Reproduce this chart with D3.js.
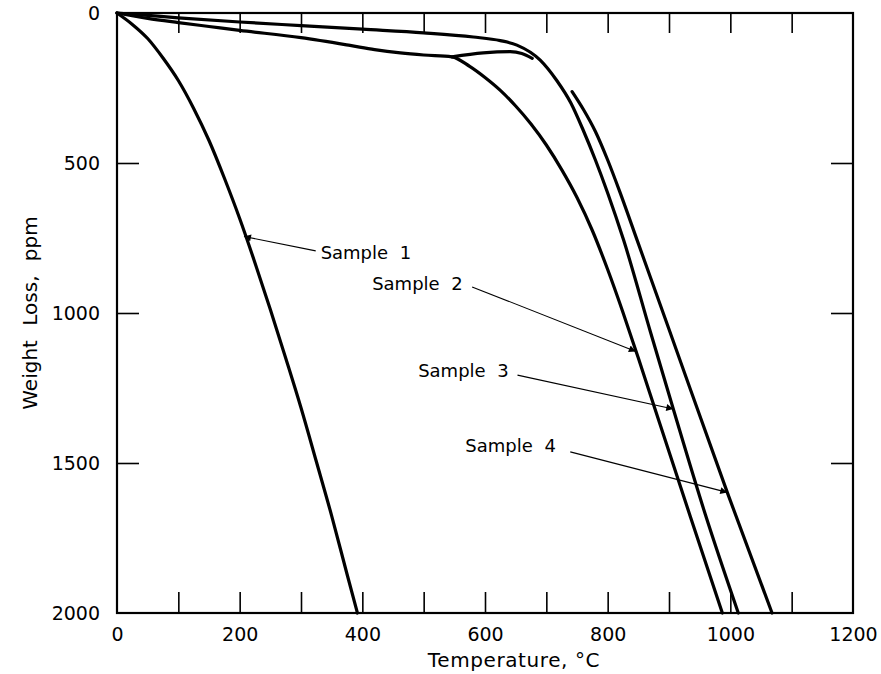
<!DOCTYPE html>
<html>
<head>
<meta charset="utf-8">
<script src="https://cdn.jsdelivr.net/npm/d3@7"></script>
<style>
  body { margin: 0; background: #fff; }
  text { font-family: "DejaVu Sans", sans-serif; fill: #000; }
</style>
</head>
<body>
<svg id="chart"></svg>
<script>
// [temperature °C, weight loss ppm]
const sample1 = [[0, 0], [25, 38], [50, 85], [75, 150], [100, 225], [125, 318], [150, 425],
  [175, 550], [200, 685], [225, 833], [250, 988], [275, 1150], [300, 1316], [325, 1495],
  [350, 1676], [375, 1870], [392, 2000]];
const sample2 = [[0, 0], [50, 18], [100, 32], [150, 45], [200, 58], [300, 82], [380, 108],
  [420, 122], [462, 133], [500, 140], [546, 146], [575, 178], [600, 215], [625, 258],
  [650, 310], [675, 370], [700, 440], [725, 522], [750, 615], [775, 725], [800, 855],
  [825, 998], [850, 1150], [878, 1325], [935, 1680], [987, 2000]];
const sample3 = [[0, 0], [50, 8], [100, 16], [200, 30], [300, 42], [400, 54], [500, 66],
  [581, 80], [625, 92], [652, 107], [690, 157], [717, 225], [740, 300], [760, 390],
  [780, 490], [800, 600], [826, 757], [870, 1065], [907, 1320], [959, 1670], [1013, 2000]];
// sample 4 trace has a break between the plateau and the fall
const sample4Plateau = [[546, 146], [597, 133], [641, 129], [660, 135], [677, 151]];
const sample4Fall = [[742, 262], [760, 320], [780, 395], [800, 490], [820, 597], [848, 757],
  [900, 1054], [995, 1598], [1068, 2000]];

const series = [sample1, sample2, sample3, sample4Plateau, sample4Fall];

const xTickLabels = [0, 200, 400, 600, 800, 1000, 1200];
const yTickLabels = [0, 500, 1000, 1500, 2000];

// annotations: label text, label position, arrow start, arrow tip (data units)
const labelNames = ['Sample 1', 'Sample 2', 'Sample 3', 'Sample 4'];
const labelAt = [[332, 820], [416, 923], [491, 1213], [568, 1463]];
const arrowFrom = [[324, 793], [579, 913], [653, 1207], [739, 1463]];
const arrowTo = [[207, 745], [846, 1128], [907, 1320], [995, 1598]];

const width = 881, height = 674;
const margin = { top: 13, right: 28, bottom: 61, left: 117 };

const svg = d3.select('#chart').attr('width', width).attr('height', height);

const x = d3.scaleLinear().domain([0, 1200]).range([margin.left, width - margin.right]);
const y = d3.scaleLinear().domain([0, 2000]).range([margin.top, height - margin.bottom]);

// inner ticks
svg.append('g')
  .attr('transform', `translate(0,${y(2000)})`)
  .call(d3.axisBottom(x).tickValues(d3.range(100, 1200, 100)).tickSize(-21).tickFormat(''))
  .call(g => g.select('.domain').remove())
  .selectAll('line').attr('stroke-width', 1.6);
svg.append('g')
  .attr('transform', `translate(0,${y(0)})`)
  .call(d3.axisTop(x).tickValues(d3.range(100, 1200, 100)).tickSize(-20).tickFormat(''))
  .call(g => g.select('.domain').remove())
  .selectAll('line').attr('stroke-width', 1.6);
svg.append('g')
  .attr('transform', `translate(${x(0)},0)`)
  .call(d3.axisLeft(y).tickValues([500, 1000, 1500]).tickSize(-22).tickFormat(''))
  .call(g => g.select('.domain').remove())
  .selectAll('line').attr('stroke-width', 1.6);
svg.append('g')
  .attr('transform', `translate(${x(1200)},0)`)
  .call(d3.axisRight(y).tickValues([500, 1000, 1500]).tickSize(-22).tickFormat(''))
  .call(g => g.select('.domain').remove())
  .selectAll('line').attr('stroke-width', 1.6);

// tick labels
svg.append('g')
  .attr('transform', `translate(0,${y(2000)})`)
  .call(d3.axisBottom(x).tickValues(xTickLabels).tickSize(0).tickPadding(15).tickFormat(d3.format('d')))
  .call(g => g.select('.domain').remove())
  .attr('font-size', 19).attr('font-family', '"DejaVu Sans", sans-serif');
svg.append('g')
  .attr('transform', `translate(${x(0)},0)`)
  .call(d3.axisLeft(y).tickValues(yTickLabels).tickSize(0).tickPadding(17).tickFormat(d3.format('d')))
  .call(g => g.select('.domain').remove())
  .attr('font-size', 19).attr('font-family', '"DejaVu Sans", sans-serif');

// frame
svg.append('rect')
  .attr('x', x(0)).attr('y', y(0))
  .attr('width', x(1200) - x(0)).attr('height', y(2000) - y(0))
  .attr('fill', 'none').attr('stroke', '#000').attr('stroke-width', 2.2);

// curves
const line = d3.line()
  .x(d => x(d[0]))
  .y(d => y(d[1]))
  .curve(d3.curveMonotoneX);

svg.append('g')
  .selectAll('path')
  .data(series)
  .join('path')
  .attr('d', line)
  .attr('fill', 'none')
  .attr('stroke', '#000')
  .attr('stroke-width', 3.2)
  .attr('stroke-linecap', 'round');

// arrow annotations
svg.append('defs').append('marker')
  .attr('id', 'head')
  .attr('viewBox', '0 0 10 10')
  .attr('refX', 10).attr('refY', 5)
  .attr('markerWidth', 11).attr('markerHeight', 7)
  .attr('markerUnits', 'userSpaceOnUse')
  .attr('orient', 'auto')
  .append('path').attr('d', 'M0,0L10,5L0,10Z').attr('fill', '#000');

svg.append('g')
  .selectAll('line')
  .data(labelNames)
  .join('line')
  .attr('x1', (d, i) => x(arrowFrom[i][0]))
  .attr('y1', (d, i) => y(arrowFrom[i][1]))
  .attr('x2', (d, i) => x(arrowTo[i][0]))
  .attr('y2', (d, i) => y(arrowTo[i][1]))
  .attr('stroke', '#000')
  .attr('stroke-width', 1.1)
  .attr('marker-end', 'url(#head)');

svg.append('g')
  .selectAll('text')
  .data(labelNames)
  .join('text')
  .attr('x', (d, i) => x(labelAt[i][0]))
  .attr('y', (d, i) => y(labelAt[i][1]))
  .attr('font-size', 18)
  .attr('word-spacing', 6)
  .text(d => d);

// axis titles
svg.append('text')
  .attr('x', 514).attr('y', 667)
  .attr('text-anchor', 'middle')
  .attr('font-size', 20)
  .attr('letter-spacing', 0.6)
  .text('Temperature, °C');

svg.append('text')
  .attr('transform', `translate(37,${(y(0) + y(2000)) / 2}) rotate(-90)`)
  .attr('text-anchor', 'middle')
  .attr('font-size', 20)
  .attr('word-spacing', 8)
  .text('Weight Loss, ppm');
</script>
</body>
</html>
